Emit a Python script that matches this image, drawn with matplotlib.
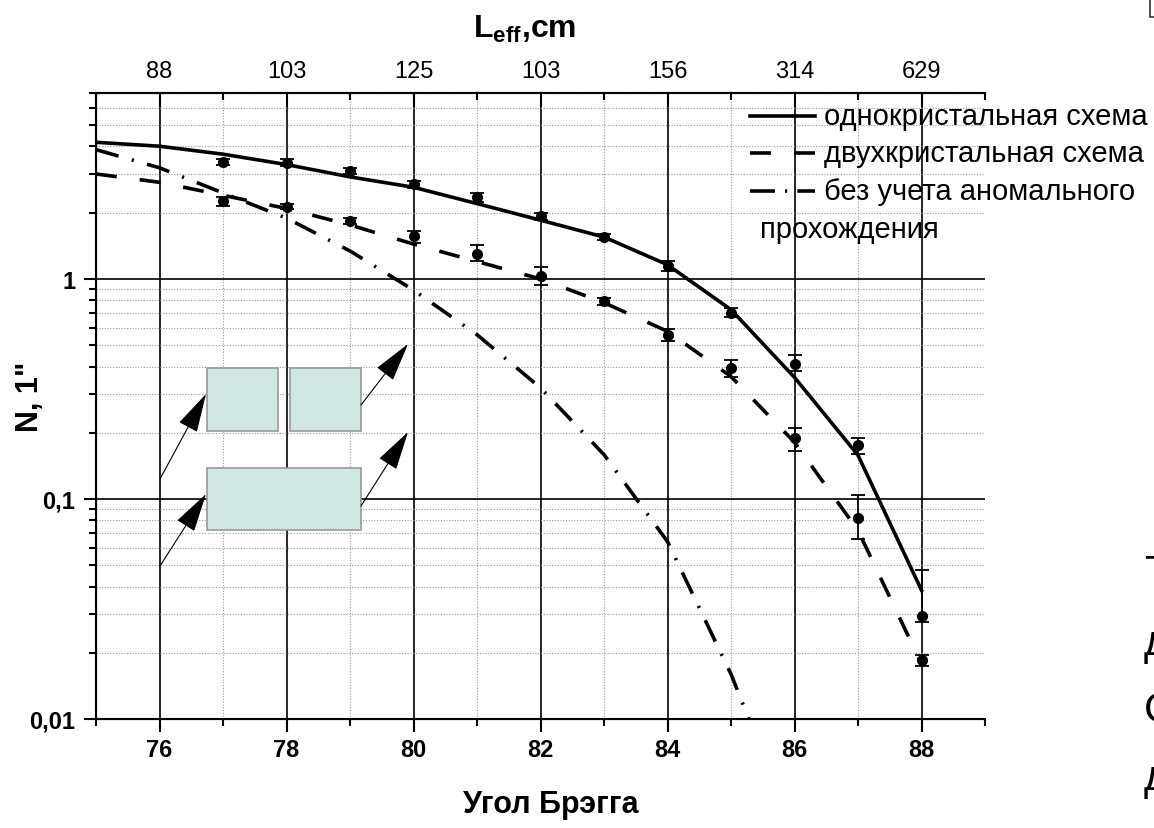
import matplotlib
matplotlib.use('Agg')
import numpy as np
import matplotlib.pyplot as plt
from matplotlib.lines import Line2D
from matplotlib.patches import Rectangle, FancyArrowPatch
from matplotlib.ticker import LogLocator, NullFormatter

plt.rcParams['font.family'] = ['Liberation Sans', 'DejaVu Sans']
plt.rcParams['mathtext.fontset'] = 'custom'
plt.rcParams['mathtext.rm'] = 'Liberation Sans'
plt.rcParams['mathtext.bf'] = 'Liberation Sans:bold'

# расчетные кривые (угол Брэгга 75..88)
x_curve = [75, 76, 77, 78, 79, 80, 81, 82, 83, 84, 85, 86, 87, 88]
one_crystal = [4.18, 4.01, 3.69, 3.31, 2.91, 2.61, 2.2, 1.85, 1.55, 1.16, 0.725, 0.357, 0.158, 0.0385]
two_crystal = [3.0, 2.75, 2.4, 2.09, 1.76, 1.44, 1.2, 1.0, 0.78, 0.578, 0.36, 0.181, 0.072, 0.0178]
x_noanom = [75, 76, 77, 78, 79, 80, 81, 82, 83, 84, 85, 86]
no_anomal = [3.87, 3.2, 2.46, 1.89, 1.34, 0.89, 0.558, 0.32, 0.159, 0.064, 0.016, 0.003]

# экспериментальные точки
x_exp = [77, 78, 79, 80, 81, 82, 83, 84, 85, 86, 87, 88]
exp_one = [3.4, 3.38, 3.1, 2.7, 2.35, 1.93, 1.55, 1.15, 0.70, 0.41, 0.175, 0.0295]
exp_one_lo = [0.12, 0.12, 0.1, 0.1, 0.12, 0.07, 0.05, 0.06, 0.03, 0.03, 0.015, 0.002]
exp_one_hi = [0.12, 0.12, 0.1, 0.1, 0.12, 0.07, 0.05, 0.06, 0.04, 0.04, 0.015, 0.018]
exp_two = [2.25, 2.13, 1.83, 1.56, 1.3, 1.03, 0.79, 0.555, 0.395, 0.19, 0.082, 0.0185]
exp_two_lo = [0.1, 0.06, 0.06, 0.1, 0.09, 0.09, 0.03, 0.035, 0.035, 0.025, 0.016, 0.001]
exp_two_hi = [0.1, 0.07, 0.07, 0.1, 0.12, 0.1, 0.03, 0.035, 0.035, 0.02, 0.022, 0.001]

# верхняя ось L_eff
top_ticks = [76, 78, 80, 82, 84, 86, 88]
top_labels = ['88', '103', '125', '103', '156', '314', '629']

labels = ['однокристальная схема', 'двухкристальная схема', 'без учета аномального']

W, H = 1154, 829
def fx(px):
    return px / W
def fy(py):
    return 1 - py / H

LW = 2.6
dash_style = (0, (5.8, 6.4))
dashdot_style = (0, (6.5, 3.8, 0.6, 3.8))

fig = plt.figure(figsize=(W / 100, H / 100), dpi=100)
ax = fig.add_axes([fx(96), fy(720), fx(985) - fx(96), fy(94) - fy(720)])
ax.set_axisbelow(True)

ax.plot(x_curve, one_crystal, color='black', lw=LW, ls='-')
ax.plot(x_curve, two_crystal, color='black', lw=LW, ls=dash_style)
ax.plot(x_noanom, no_anomal, color='black', lw=LW, ls=dashdot_style)
ax.errorbar(x_exp, exp_one, yerr=[exp_one_lo, exp_one_hi], fmt='o', color='black',
            ms=7, capsize=5, elinewidth=1.3, capthick=1.3)
ax.errorbar(x_exp, exp_two, yerr=[exp_two_lo, exp_two_hi], fmt='o', color='black',
            ms=7, capsize=5, elinewidth=1.3, capthick=1.3)

ax.set_xlim(75, 89)
ax.set_yscale('log')
ax.set_ylim(0.01, 7)
ax.set_xticks(top_ticks)
ax.set_xticks(np.arange(75, 90, 2), minor=True)
ax.set_yticks([0.01, 0.1, 1])
ax.set_yticklabels(['0,01', '0,1', '1'])
ax.yaxis.set_minor_locator(LogLocator(base=10, subs=range(2, 10), numticks=20))
ax.yaxis.set_minor_formatter(NullFormatter())

ax.grid(which='major', color='black', lw=1.2, ls='-')
ax.grid(which='minor', color='#9a9a9a', lw=0.8, ls=(0, (1, 1.5)))

ax.tick_params(axis='x', which='major', direction='out', length=9, width=1.5, labelsize=17, pad=5, top=False)
ax.tick_params(axis='x', which='minor', direction='out', length=5, width=1.5, top=False)
ax.tick_params(axis='y', which='major', direction='out', length=9, width=1.5, labelsize=17, pad=6, right=False)
ax.tick_params(axis='y', which='minor', direction='out', length=5, width=1.5, right=False)
for lab in ax.get_xticklabels() + ax.get_yticklabels():
    lab.set_fontweight('bold')
ax.spines['right'].set_visible(False)
for s in ['left', 'bottom', 'top']:
    ax.spines[s].set_linewidth(1.5)

ax2 = ax.twiny()
ax2.set_xlim(75, 89)
ax2.set_xticks(top_ticks)
ax2.set_xticklabels(top_labels)
ax2.set_xticks(np.arange(75, 90, 2), minor=True)
ax2.tick_params(axis='x', which='major', direction='in', length=10, width=1.5, labelsize=17, pad=8)
ax2.tick_params(axis='x', which='minor', direction='in', length=5, width=1.5)
ax2.spines['right'].set_visible(False)
ax2.spines['top'].set_linewidth(1.5)

# подписи осей
fig.text(fx(473), fy(38), r'L$_{\mathbf{eff}}$,cm', fontsize=23, fontweight='bold', ha='left', va='baseline')
fig.text(fx(30), fy(397), 'N, 1"', rotation=90, fontsize=22, fontweight='bold', ha='center', va='center')
fig.text(fx(551), fy(813), 'Угол Брэгга', fontsize=22, fontweight='bold', ha='center', va='baseline')

# легенда
leg_y = [117, 154, 192]
leg_styles = ['-', (0, (5.8, 6.4)), (0, (6.9, 2.8, 0.6, 2.8))]
for yy, st, lab in zip(leg_y, leg_styles, labels):
    fig.add_artist(Line2D([fx(750), fx(815)], [fy(yy), fy(yy)], transform=fig.transFigure,
                          color='black', lw=LW, ls=st))
    fig.text(fx(824), fy(yy), lab, fontsize=21, ha='left', va='center')
fig.text(fx(760), fy(230), 'прохождения', fontsize=21, ha='left', va='center')

# схема кристаллов
box_kw = dict(transform=fig.transFigure, facecolor='#cfe6e3', edgecolor='#999999', lw=1.2)
fig.add_artist(Rectangle((fx(207), fy(432)), fx(278) - fx(207), fy(369) - fy(432), **box_kw))
fig.add_artist(Rectangle((fx(290), fy(432)), fx(361) - fx(290), fy(369) - fy(432), **box_kw))
fig.add_artist(Rectangle((fx(207), fy(531)), fx(361) - fx(207), fy(469) - fy(531), **box_kw))
arrows = [((160, 480), (206, 395)), ((361, 406), (408, 345)),
          ((160, 567), (206, 495)), ((361, 507), (408, 433))]
for (x0, y0), (x1, y1) in arrows:
    fig.add_artist(FancyArrowPatch((fx(x0), fy(y0)), (fx(x1), fy(y1)), transform=fig.transFigure,
                                   arrowstyle='-|>,head_length=1.25,head_width=0.33', mutation_scale=20,
                                   color='black', lw=0.8, shrinkA=0, shrinkB=0))

# обрезанный текст слайда справа
for yy, ch in [(585, 'Т'), (655, 'д'), (722, 'С'), (790, 'д')]:
    fig.text(fx(1144), fy(yy), ch, fontsize=30, ha='left', va='baseline')
fig.add_artist(Line2D([fx(1150), fx(1150), fx(1154)], [fy(0), fy(18), fy(18)],
                      transform=fig.transFigure, color='#333333', lw=1.2))

fig.savefig('out.png', dpi=100)
